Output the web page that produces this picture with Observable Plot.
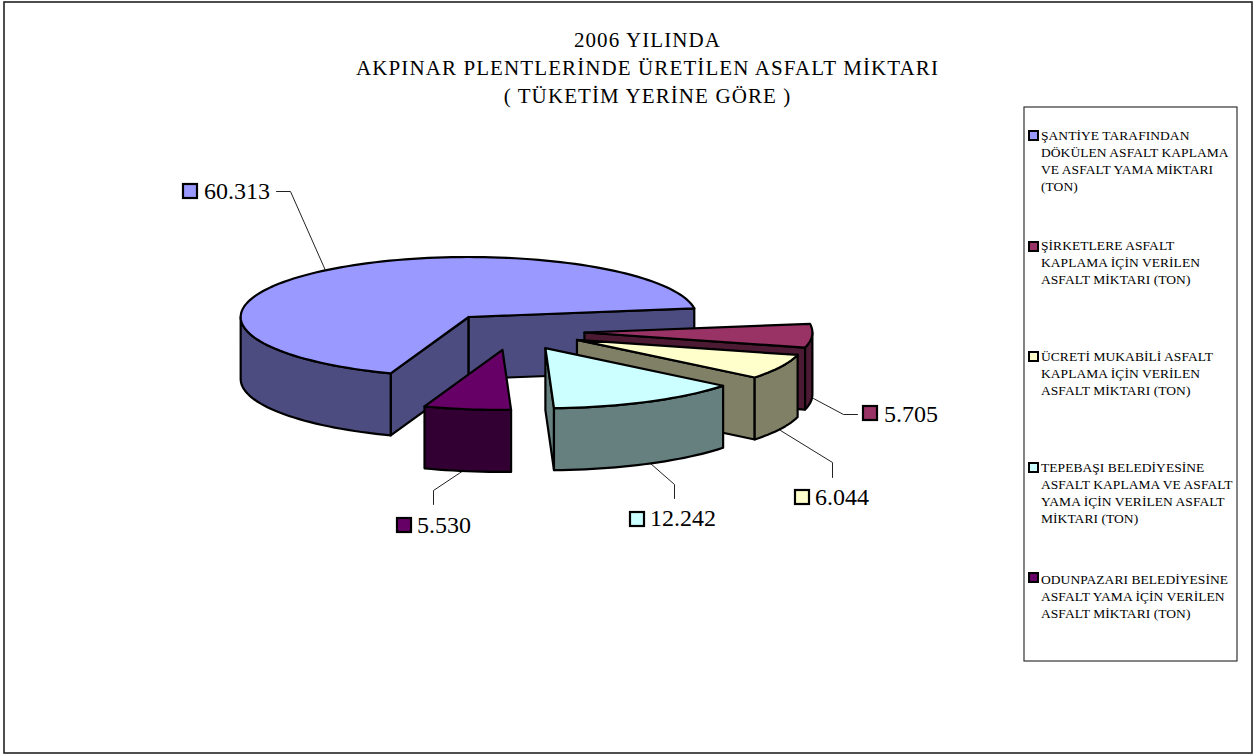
<!DOCTYPE html>
<html lang="tr"><head><meta charset="utf-8">
<style>html,body{margin:0;padding:0;background:#fff}svg{display:block}.ttl text{letter-spacing:1.1px}.lgd text{letter-spacing:.05px}</style>
<script src="https://cdn.jsdelivr.net/npm/d3@7"></script>
<script src="https://cdn.jsdelivr.net/npm/@observablehq/plot@0.6"></script>
</head><body><div id="chart"></div>
<script>
// --- data
const titleLines = ["2006 YILINDA", "AKPINAR PLENTLERİNDE ÜRETİLEN ASFALT MİKTARI", "( TÜKETİM YERİNE GÖRE )"];
const categories = [
  "ŞANTİYE TARAFINDAN\nDÖKÜLEN ASFALT KAPLAMA\nVE ASFALT YAMA MİKTARI\n(TON)",
  "ŞİRKETLERE ASFALT\nKAPLAMA İÇİN VERİLEN\nASFALT MİKTARI (TON)",
  "ÜCRETİ MUKABİLİ ASFALT\nKAPLAMA İÇİN VERİLEN\nASFALT MİKTARI (TON)",
  "TEPEBAŞI BELEDİYESİNE\nASFALT KAPLAMA VE ASFALT\nYAMA İÇİN VERİLEN ASFALT\nMİKTARI (TON)",
  "ODUNPAZARI BELEDİYESİNE\nASFALT YAMA İÇİN VERİLEN\nASFALT MİKTARI (TON)"
];
const values = [60313, 5705, 6044, 12242, 5530];
const valueLabels = ["60.313", "5.705", "6.044", "12.242", "5.530"];
// --- style
const topColors = ["#9999FF", "#993366", "#FFFFCC", "#CCFFFF", "#660066"];
const sideColors = ["#4C4C80", "#4D1A33", "#808066", "#668080", "#330033"];
// --- layout (pixels)
const W = 1255, H = 754, FONT = "'Liberation Serif','Times New Roman',serif";
const cx = 513, cy = 331, rx = 228, ry = 60;
const ux = p => (p - cx) / rx, uy = p => (p - cy) / ry;
const startAngle = 110, explode = 71 / rx, depth = 62 / ry;
const labelLayout = [
  {key: [182, 183], text: [203.5, 191], leader: [[276,191],[290,191],[325,270]]},
  {key: [862, 405], text: [883.5, 414], leader: [[813,398],[843,414],[857,414]]},
  {key: [794, 489], text: [814.5, 497], leader: [[780,430],[832,462],[832,477]]},
  {key: [629, 511], text: [649.5, 518], leader: [[650,463],[674,484],[674,498]]},
  {key: [396, 517], text: [416.5, 525], leader: [[463,470],[433,490],[433,504]]}
];
const legendY = [127, 237, 348, 459, 571];
const legendKeyY = [131, 242, 352, 463, 573];

// --- pie geometry derived from the values
const total = d3.sum(values);
let acc = startAngle;
const slices = values.map((v, i) => {
  const a0 = acc, a1 = acc + v / total * 360; acc = a1;
  const m = (a0 + a1) / 2 * Math.PI / 180;
  return {i, a0, a1, ox: explode * Math.cos(m), oy: explode * Math.sin(m)};
});
const rad = a => a * Math.PI / 180;
const arc = (s, from, to, dz = 0) => {
  const n = Math.max(2, Math.ceil(Math.abs(to - from) / 2));
  return d3.range(n + 1).map(k => {
    const a = rad(from + (to - from) * k / n);
    return {x: s.ox + Math.cos(a), y: s.oy + Math.sin(a) + dz};
  });
};
const face = (pts, fill) => Plot.line([...pts, pts[0]], {x: "x", y: "y", fill, stroke: "#000", strokeWidth: 2.2, strokeLinejoin: "round"});
const cut = (s, a) => {
  const p = {x: s.ox, y: s.oy}, q = {x: s.ox + Math.cos(rad(a)), y: s.oy + Math.sin(rad(a))};
  return [p, q, {x: q.x, y: q.y + depth}, {x: p.x, y: p.y + depth}];
};
const pieMarks = slices.flatMap(s => {
  const marks = [];
  const top = topColors[s.i], side = sideColors[s.i];
  if (-Math.cos(rad(s.a0)) > 0) marks.push(face(cut(s, s.a0), side));
  if (Math.cos(rad(s.a1)) > 0) marks.push(face(cut(s, s.a1), side));
  for (const [lo, hi] of [[0, 180], [360, 540]]) {
    const f = Math.max(s.a0, lo), t = Math.min(s.a1, hi);
    if (t > f) marks.push(face([...arc(s, f, t), ...arc(s, t, f, depth)], side));
  }
  marks.push(face([{x: s.ox, y: s.oy}, ...arc(s, s.a0, s.a1)], top));
  return marks;
});

const box = (x1, y1, x2, y2, o) => Plot.rect([{}], {x1: ux(x1), x2: ux(x2), y1: uy(y1), y2: uy(y2), ...o});
const txt = (s, x, y, o) => Plot.text([s], {x: ux(x), y: uy(y), text: d => d, fontFamily: FONT, fill: "#000", ...o});

const chart = Plot.plot({
  width: W, height: H, margin: 0,
  x: {domain: [-1, 1], range: [cx - rx, cx + rx], axis: null},
  y: {domain: [-1, 1], range: [cy - ry, cy + ry], axis: null},
  style: {background: "#fff", fontFamily: FONT},
  marks: [
    box(4, 2, 1252, 753, {fill: "#fff", stroke: "#222", strokeWidth: 1.6}),
    box(1024, 107, 1237, 661, {fill: "#fff", stroke: "#333", strokeWidth: 1.2}),
    ...titleLines.map((t, i) => txt(t, 647, 40 + i * 28, {fontSize: 21, textAnchor: "middle", lineAnchor: "middle", className: "ttl"})),
    ...labelLayout.map(l => Plot.line(l.leader, {x: d => ux(d[0]), y: d => uy(d[1]), stroke: "#222", strokeWidth: 1})),
    ...pieMarks,
    ...labelLayout.flatMap((l, i) => [
      box(l.key[0] + 1, l.key[1] + 1, l.key[0] + 15, l.key[1] + 15, {fill: topColors[i], stroke: "#000", strokeWidth: 2.2}),
      txt(valueLabels[i], l.text[0], l.text[1], {fontSize: 24, textAnchor: "start", lineAnchor: "middle"})
    ]),
    ...categories.flatMap((c, i) => [
      box(1029, legendKeyY[i], 1038, legendKeyY[i] + 9, {fill: topColors[i], stroke: "#000", strokeWidth: 2}),
      txt(c, 1040.5, legendY[i], {fontSize: 13.5, textAnchor: "start", lineAnchor: "top", lineHeight: 1.26, className: "lgd"})
    ])
  ]
});
document.getElementById("chart").appendChild(chart);
</script></body></html>
